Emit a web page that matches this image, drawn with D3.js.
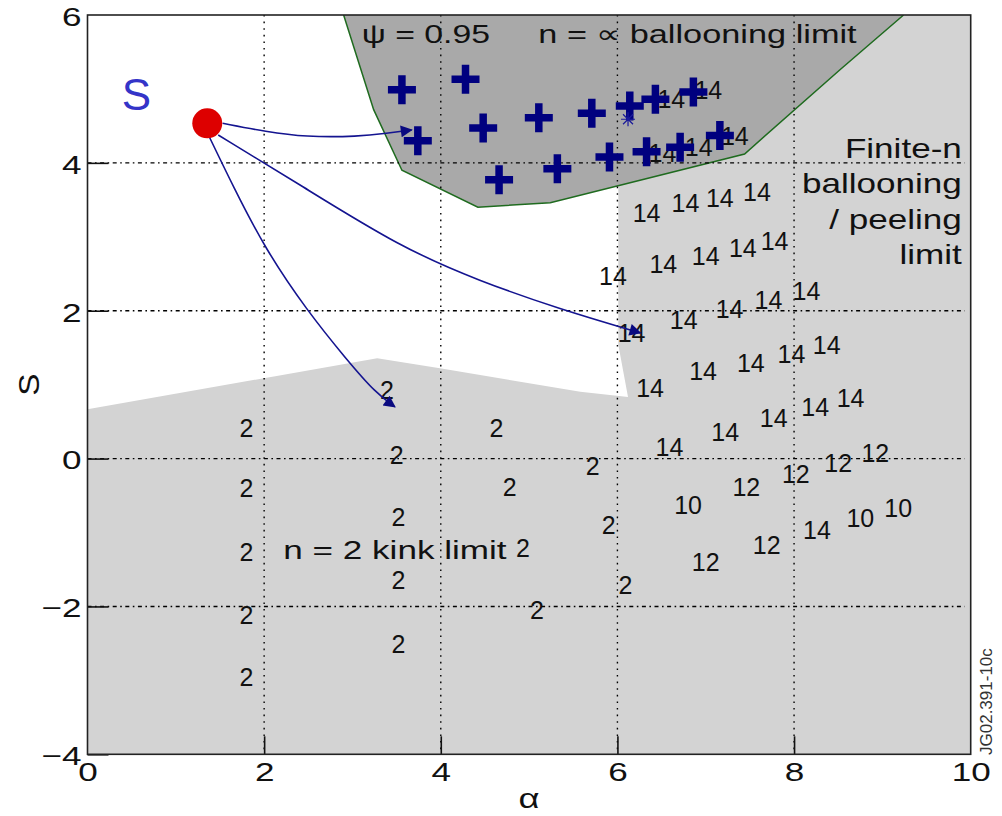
<!DOCTYPE html>
<html>
<head>
<meta charset="utf-8">
<script src="https://cdn.jsdelivr.net/npm/d3@7"></script>
<style>
  html, body { margin: 0; padding: 0; background: #fff; }
  svg { display: block; font-family: "Liberation Sans", Arial, Helvetica, sans-serif; }
</style>
</head>
<body>
<svg id="chart" width="1002" height="816"></svg>
<script>
// Axis ticks
const xTicks = [0, 2, 4, 6, 8, 10];
const yTicks = [-4, -2, 0, 2, 4, 6];

// Stability boundaries in (alpha, s)
const ballooningBoundary = [[2.90, 6.0], [3.24, 4.72], [3.56, 3.90], [4.42, 3.40], [5.24, 3.46],
  [7.44, 4.12], [8.52, 5.26], [9.22, 5.98], [9.24, 6.0]];
const kinkBoundary = [[0, 0.667], [3.28, 1.357], [3.99, 1.221], [5.58, 0.905], [6.12, 0.833]];
const peelingEdge = [[6.12, 0.833], [6.01, 1.54], [6.01, 6.0]];

// n = infinity ballooning unstable points
const infBallooning = [[3.56, 4.99], [4.28, 5.13], [3.74, 4.30], [4.48, 4.47], [4.66, 3.77],
  [5.11, 4.61], [5.32, 3.92], [5.71, 4.67], [5.91, 4.08], [6.14, 4.77], [6.43, 4.86],
  [6.86, 4.96], [6.33, 4.15], [6.71, 4.21], [7.16, 4.37]];
const markedPoint = [6.12, 4.59];

// Most unstable toroidal mode number at each scanned point
const n14 = [[6.61, 4.86], [7.03, 4.99], [6.51, 4.13], [6.92, 4.22], [7.33, 4.36],
  [6.33, 3.32], [6.77, 3.46], [7.16, 3.53], [7.58, 3.60],
  [6.52, 2.63], [7.00, 2.74], [7.42, 2.85], [7.78, 2.94], [5.95, 2.47],
  [6.75, 1.88], [7.27, 2.02], [7.71, 2.15], [8.14, 2.27], [6.16, 1.70],
  [6.37, 0.95], [6.97, 1.18], [7.51, 1.29], [7.97, 1.42], [8.37, 1.54],
  [6.59, 0.16], [7.22, 0.36], [7.77, 0.55], [8.24, 0.70], [8.64, 0.82], [8.26, -0.97]];
const n12 = [[7.46, -0.39], [8.02, -0.21], [8.50, -0.06], [8.92, 0.07], [7.69, -1.17], [7.00, -1.40]];
const n10 = [[6.80, -0.63], [8.75, -0.81], [9.18, -0.67]];
const n2 = [[5.72, -0.10], [5.90, -0.90], [6.09, -1.71],
  [1.80, 0.41], [1.80, -0.40], [1.80, -1.26], [1.80, -2.12], [1.80, -2.95],
  [3.39, 0.93], [3.50, 0.05], [3.52, -0.79], [3.52, -1.64], [3.52, -2.51],
  [4.63, 0.41], [4.78, -0.39], [5.09, -2.05], [4.93, -1.21]];

// Operating point and its trajectories
const operatingPoint = [1.356, 4.535];
const pathToBallooning = [[1.53, 4.535], [2.03, 4.42], [2.46, 4.35], [3.07, 4.355], [3.39, 4.40], [3.67, 4.445]];
const pathToPeeling = [[1.48, 4.377], [2.41, 3.70], [3.54, 2.86], [4.44, 2.40], [5.35, 2.02], [6.26, 1.70]];
const pathToKink = [[1.38, 4.35], [1.65, 3.68], [2.01, 2.84], [2.48, 2.01], [2.94, 1.33], [3.27, 0.88], [3.48, 0.70]];

const svg = d3.select("#chart");
const plot = { left: 87.5, top: 15, right: 970.7, bottom: 754.3 };
const x = d3.scaleLinear().domain([0, 10]).range([plot.left, plot.right]);
const y = d3.scaleLinear().domain([-4, 6]).range([plot.bottom, plot.top]);

const defs = svg.append("defs");
defs.append("clipPath").attr("id", "plotClip").append("rect")
  .attr("x", plot.left).attr("y", plot.top)
  .attr("width", plot.right - plot.left).attr("height", plot.bottom - plot.top);
defs.append("marker").attr("id", "arrowhead")
  .attr("viewBox", "0 0 10 10").attr("refX", 9).attr("refY", 5)
  .attr("markerWidth", 16).attr("markerHeight", 12)
  .attr("markerUnits", "userSpaceOnUse").attr("orient", "auto")
  .append("path").attr("d", "M0,0L10,5L0,10Z").attr("fill", "#0a0a80");

const area = svg.append("g").attr("clip-path", "url(#plotClip)");
const poly = d3.line().x(d => x(d[0])).y(d => y(d[1]));

// Kink / peeling unstable region (light grey)
const lightRegion = [[0, -4], ...kinkBoundary, ...peelingEdge, [10, 6], [10, -4]];
area.append("path").attr("d", poly(lightRegion) + "Z").attr("fill", "#d3d3d3");

// n = infinity ballooning region (dark grey)
area.append("path").attr("d", poly(ballooningBoundary) + "Z").attr("fill", "#a9a9a9");
area.append("path").attr("d", poly(ballooningBoundary))
  .attr("fill", "none").attr("stroke", "#1f6b1f").attr("stroke-width", 1.5);

// Grid
const grid = area.append("g").attr("stroke", "#000").attr("stroke-width", 1.4).attr("fill", "none");
grid.selectAll(".vg").data(xTicks.slice(1, -1)).join("line")
  .attr("x1", d => x(d)).attr("x2", d => x(d))
  .attr("y1", plot.top).attr("y2", plot.bottom)
  .attr("stroke-dasharray", "1.6,5");
grid.selectAll(".hg").data(yTicks.slice(1, -1)).join("line")
  .attr("y1", d => y(d)).attr("y2", d => y(d))
  .attr("x1", plot.left).attr("x2", plot.right - 6)
  .attr("stroke-dasharray", "4,3.5,1.6,3.5");

// Mode number labels
const modeGroups = [[n14, "14"], [n12, "12"], [n10, "10"], [n2, "2"]];
const modes = area.append("g").attr("font-size", 25).attr("fill", "#111").attr("text-anchor", "middle");
modeGroups.forEach(([pts, txt]) => {
  modes.selectAll(null).data(pts).join("text")
    .attr("x", d => x(d[0])).attr("y", d => y(d[1])).attr("dy", "0.36em")
    .text(txt);
});

// Trajectories from the operating point
const curve = d3.line().x(d => x(d[0])).y(d => y(d[1])).curve(d3.curveBasis);
[pathToBallooning, pathToPeeling, pathToKink].forEach(p => {
  area.append("path").attr("d", curve(p)).attr("fill", "none")
    .attr("stroke", "#141490").attr("stroke-width", 1.6)
    .attr("marker-end", "url(#arrowhead)");
});

// Ballooning unstable points
area.selectAll(".plus").data(infBallooning).join("path")
  .attr("transform", d => `translate(${x(d[0])},${y(d[1])})`)
  .attr("d", "M-14,0H14M0,-14.5V14.5")
  .attr("stroke", "#00007f").attr("stroke-width", 7.5).attr("fill", "none");

// Small asterisk marker
area.append("path")
  .attr("transform", `translate(${x(markedPoint[0])},${y(markedPoint[1])})`)
  .attr("d", "M-7,0H7M0,-7V7M-5,-5L5,5M-5,5L5,-5")
  .attr("stroke", "#1a1a9a").attr("stroke-width", 1.2).attr("fill", "none");

// Operating point
area.append("circle").attr("cx", x(operatingPoint[0])).attr("cy", y(operatingPoint[1]))
  .attr("r", 15).attr("fill", "#dd0000");

// Region annotations
function stretchedText(parent, txt, ax, ay, fs, sx, anchor) {
  return parent.append("text")
    .attr("transform", `translate(${x(ax)},${y(ay)}) scale(${sx},1)`)
    .attr("font-size", fs).attr("text-anchor", anchor || "start")
    .attr("fill", "#111").text(txt);
}
const notes = svg.append("g");
stretchedText(notes, "ψ = 0.95", 3.105, 5.62, 26, 1.3);
stretchedText(notes, "n = ∝ ballooning limit", 5.104, 5.62, 26, 1.32);
["Finite-n", "ballooning", "/ peeling", "limit"].forEach((t, i) => {
  stretchedText(notes, t, 9.90, [4.066, 3.592, 3.106, 2.632][i], 27, 1.3, "end");
});
stretchedText(notes, "n = 2 kink limit", 2.217, -1.36, 26, 1.35);

notes.append("text").attr("x", x(0.387)).attr("y", y(4.715))
  .attr("font-size", 44).attr("fill", "#3434c8").text("S");

// Axes
const xAxis = svg.append("g").attr("transform", `translate(0,${plot.bottom})`)
  .call(d3.axisBottom(x).tickValues(xTicks).tickSizeInner(-18).tickSizeOuter(0).tickPadding(8));
const yAxis = svg.append("g").attr("transform", `translate(${plot.left},0)`)
  .call(d3.axisLeft(y).tickValues(yTicks).tickSizeInner(-21).tickSizeOuter(0).tickPadding(6));
[xAxis, yAxis].forEach(a => {
  a.select(".domain").remove();
  a.selectAll(".tick line").attr("stroke", "#111").attr("stroke-width", 1.6);
  a.selectAll(".tick text").attr("font-size", 26).attr("fill", "#111")
    .attr("font-family", "'Liberation Sans', Arial, sans-serif");
});
xAxis.selectAll(".tick text").attr("transform", "scale(1.35,1)");
yAxis.selectAll(".tick text").attr("transform", "scale(1.35,1)").attr("x", -6 / 1.35).attr("dy", "0.4em");
// hide the tick marks that sit on the frame ends
xAxis.selectAll(".tick line").filter(d => d === 0 || d === 10).remove();
yAxis.selectAll(".tick line").filter(d => d === 6).remove();

// Frame
svg.append("rect").attr("x", plot.left).attr("y", plot.top)
  .attr("width", plot.right - plot.left).attr("height", plot.bottom - plot.top)
  .attr("fill", "none").attr("stroke", "#222").attr("stroke-width", 1.6);

// Axis titles
svg.append("text").attr("transform", `translate(${(plot.left + plot.right) / 2},808) scale(1.3,1)`)
  .attr("text-anchor", "middle").attr("font-size", 28).attr("fill", "#111").text("α");
svg.append("text").attr("transform", `translate(39,${(plot.top + plot.bottom) / 2}) rotate(-90) scale(1.15,1)`)
  .attr("text-anchor", "middle").attr("font-size", 29).attr("fill", "#111").text("S");

// Figure reference tag
svg.append("text").attr("transform", `translate(992,755) rotate(-90)`)
  .attr("font-size", 17).attr("fill", "#333").text("JG02.391-10c");
</script>
</body>
</html>
